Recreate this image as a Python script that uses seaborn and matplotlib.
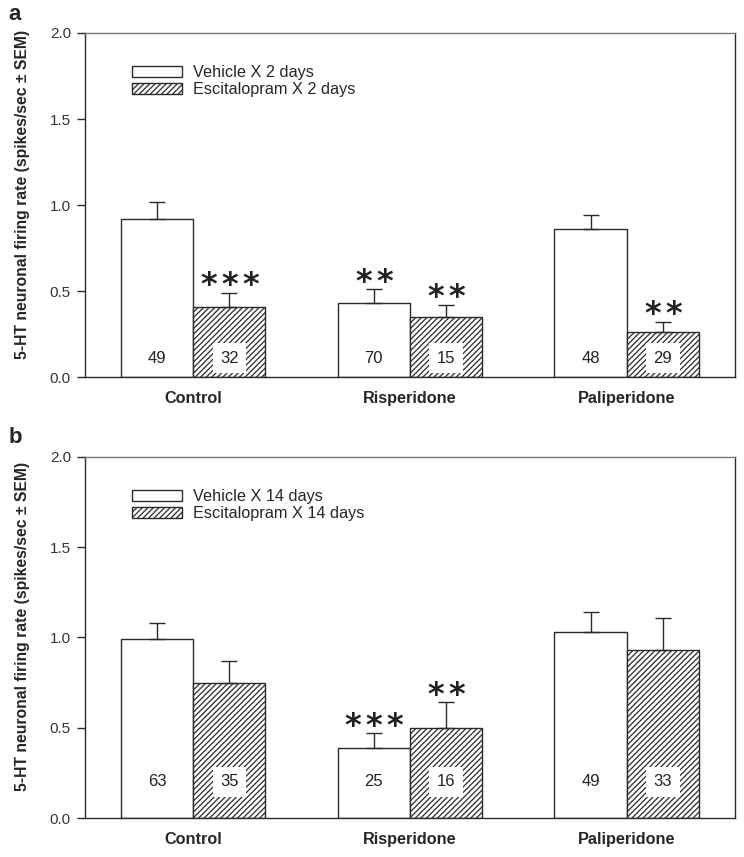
import pandas as pd
import matplotlib
matplotlib.use('Agg')
import matplotlib.pyplot as plt
import seaborn as sns

# data
drugs = ['Control', 'Risperidone', 'Paliperidone']

# panel a: 2 days
treat_a = ['Vehicle X 2 days', 'Escitalopram X 2 days']
rate_a_vehicle = [0.92, 0.43, 0.86]
rate_a_escit = [0.41, 0.35, 0.26]
sem_a_vehicle = [0.10, 0.08, 0.08]
sem_a_escit = [0.08, 0.07, 0.06]
n_a_vehicle = [49, 70, 48]
n_a_escit = [32, 15, 29]
stars_a_vehicle = [0, 2, 0]
stars_a_escit = [3, 2, 2]

# panel b: 14 days
treat_b = ['Vehicle X 14 days', 'Escitalopram X 14 days']
rate_b_vehicle = [0.99, 0.39, 1.03]
rate_b_escit = [0.75, 0.50, 0.93]
sem_b_vehicle = [0.09, 0.08, 0.11]
sem_b_escit = [0.12, 0.14, 0.18]
n_b_vehicle = [63, 25, 49]
n_b_escit = [35, 16, 33]
stars_b_vehicle = [0, 3, 0]
stars_b_escit = [0, 2, 0]

sns.set_style('white')
plt.rcParams['font.family'] = ['Liberation Sans', 'DejaVu Sans']
plt.rcParams['hatch.linewidth'] = 0.9
plt.rcParams['hatch.color'] = '#222222'

EDGE = '#2a2a2a'


def draw_panel(ax, treat, veh, esc, sem_v, sem_e, n_v, n_e, st_v, st_e, n_y, leg_y):
    df = pd.DataFrame({
        'drug': drugs * 2,
        'treatment': [treat[0]] * 3 + [treat[1]] * 3,
        'rate': veh + esc,
    })
    sns.barplot(data=df, x='drug', y='rate', hue='treatment', order=drugs,
                hue_order=treat, palette=['white', 'white'], width=0.667,
                gap=0, errorbar=None, edgecolor=EDGE, linewidth=1.0,
                legend=False, ax=ax)
    for p in ax.containers[1]:
        p.set_hatch('//////')

    groups = [(veh, sem_v, n_v, st_v, False), (esc, sem_e, n_e, st_e, True)]
    for cont, (vals, sems, ns, stars, boxed) in zip(ax.containers, groups):
        xs = [p.get_x() + p.get_width() / 2 for p in cont]
        ax.errorbar(xs, vals, yerr=[[0] * 3, sems], fmt='none', ecolor=EDGE,
                    elinewidth=1.0, capsize=6, capthick=1.0, zorder=3)
        for x, v, s, n, st in zip(xs, vals, sems, ns, stars):
            bbox = dict(boxstyle='square,pad=0.45', fc='white', ec='none') if boxed else None
            ax.text(x, n_y, str(n), ha='center', va='center', fontsize=12,
                    color='#222222', bbox=bbox, zorder=4)
            # significance stars, one glyph each
            for k in range(st):
                ax.annotate('*', xy=(x, v + s), xytext=((k - (st - 1) / 2) * 15.1, -1),
                            textcoords='offset points', ha='center', va='baseline',
                            fontsize=23, family='DejaVu Sans', fontweight='bold',
                            color='#222222')

    ax.legend(handles=list(ax.containers), labels=treat, loc='upper left',
              bbox_to_anchor=(0.072, leg_y), frameon=False, fontsize=11.7,
              handlelength=3.08, handleheight=0.68, handletextpad=0.7,
              labelspacing=0.12, borderpad=0, borderaxespad=0)

    ax.set_xlim(-0.5, 2.5)
    ax.set_ylim(0, 2.0)
    ax.set_yticks([0, 0.5, 1.0, 1.5, 2.0])
    ax.set_yticklabels(['0.0', '0.5', '1.0', '1.5', '2.0'])
    ax.tick_params(axis='y', direction='out', length=6, width=1, color=EDGE,
                   labelsize=11, labelcolor='#333333', pad=4, left=True)
    ax.tick_params(axis='x', length=0, pad=10)
    for lab in ax.get_xticklabels():
        lab.set_fontweight('bold')
        lab.set_fontsize(11.7)
    ax.set_xlabel('')
    ax.set_ylabel('5-HT neuronal firing rate (spikes/sec ± SEM)',
                  fontsize=11.3, fontweight='bold')
    ax.yaxis.set_label_coords(-0.085, 0.53)
    for side, sp in ax.spines.items():
        sp.set_visible(True)
        sp.set_linewidth(1.0)
        sp.set_color(EDGE)
    ax.spines['top'].set_color('#777777')


fig = plt.figure(figsize=(7.44, 8.57), dpi=100)
ax_a = fig.add_axes([0.114, 0.560, 0.874, 0.4015])
ax_b = fig.add_axes([0.114, 0.0455, 0.874, 0.4215])

draw_panel(ax_a, treat_a, rate_a_vehicle, rate_a_escit, sem_a_vehicle,
           sem_a_escit, n_a_vehicle, n_a_escit, stars_a_vehicle, stars_a_escit, 0.11, 0.907)
draw_panel(ax_b, treat_b, rate_b_vehicle, rate_b_escit, sem_b_vehicle,
           sem_b_escit, n_b_vehicle, n_b_escit, stars_b_vehicle, stars_b_escit, 0.20, 0.911)

fig.text(0.011, 0.983, 'a', fontsize=16, fontweight='bold', va='center')
fig.text(0.011, 0.490, 'b', fontsize=16, fontweight='bold', va='center')

fig.savefig('out.png', dpi=100)
